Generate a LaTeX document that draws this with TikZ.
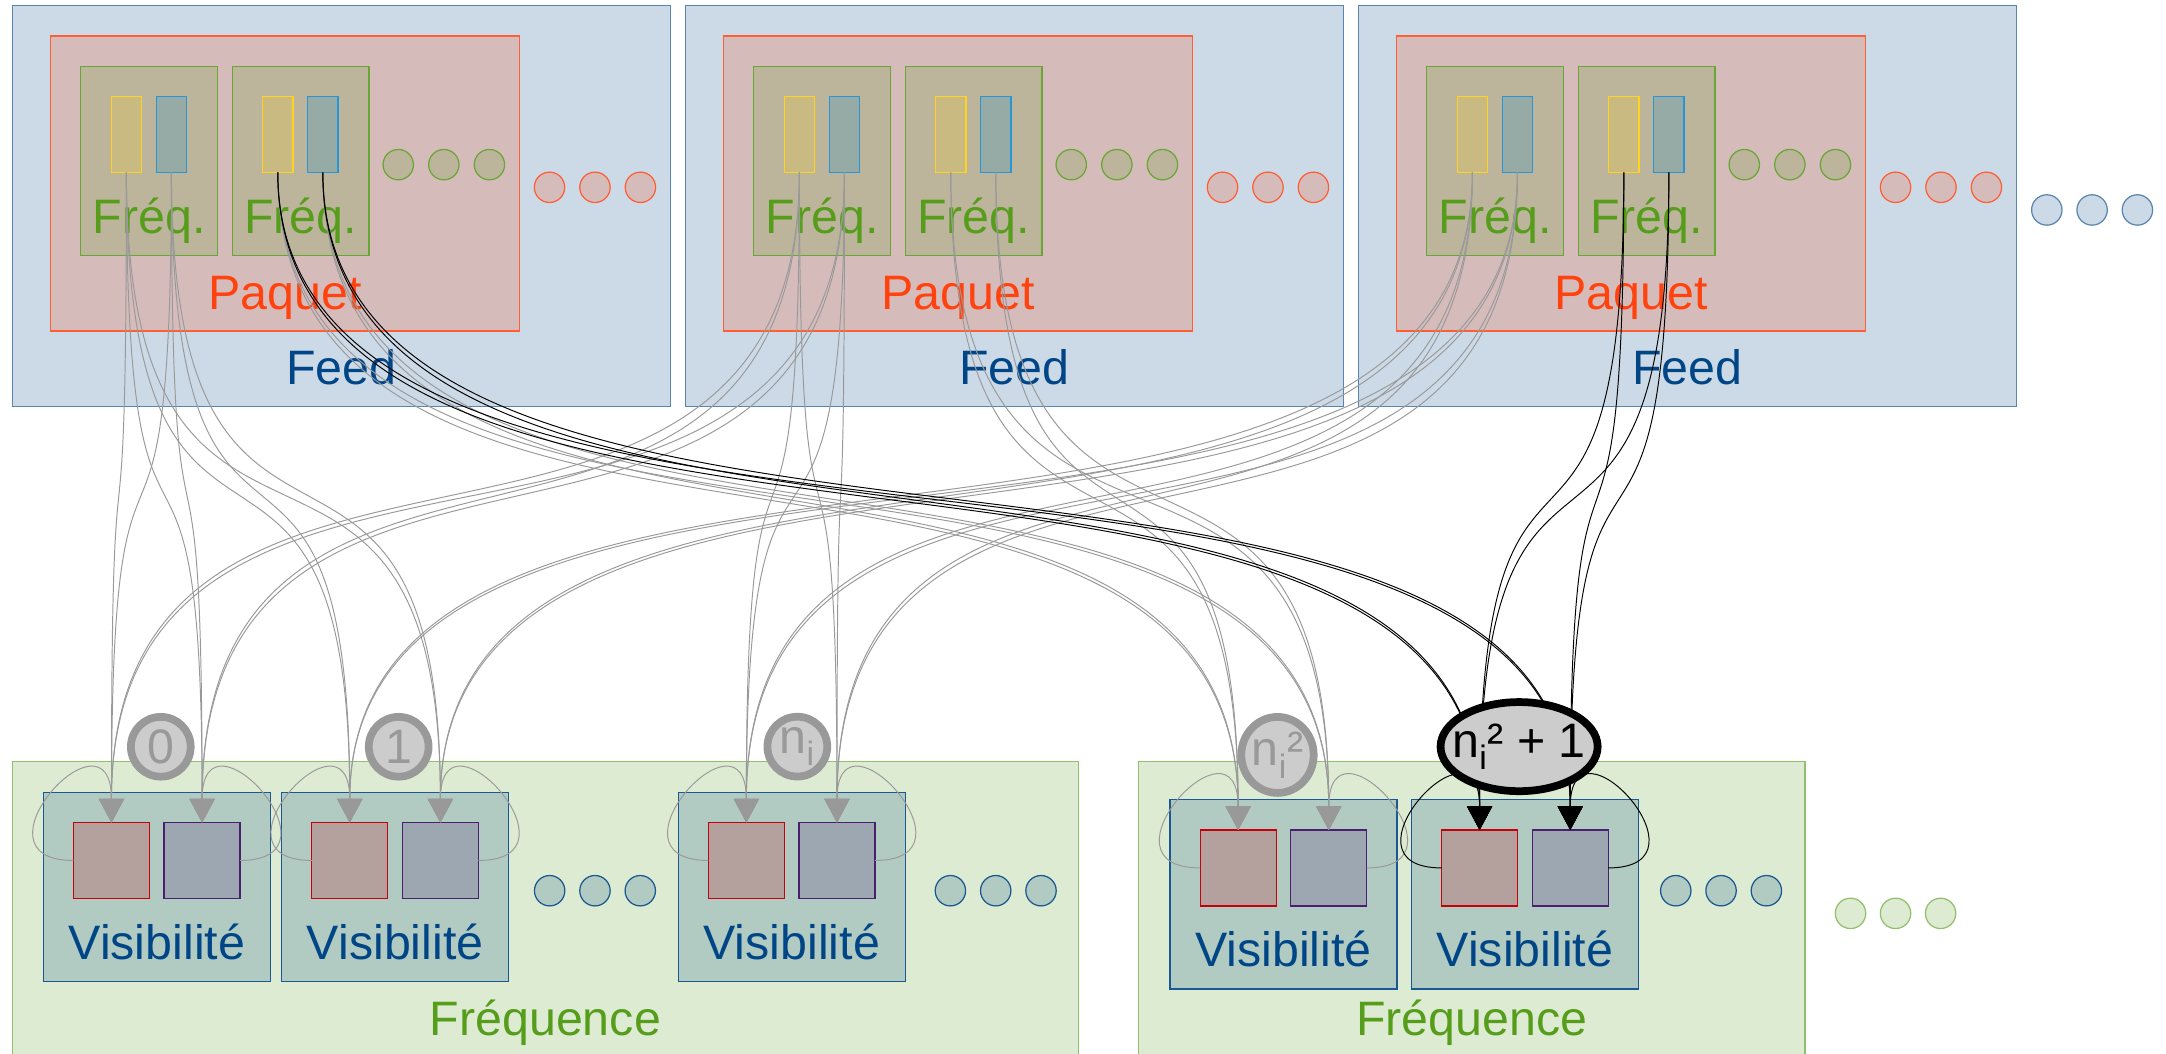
\documentclass[tikz,border=0pt]{standalone}
\usepackage{fontspec}
\setmainfont{Liberation Sans}
\usetikzlibrary{arrows.meta,shapes.geometric}

\definecolor{feedblue}{HTML}{004586}
\definecolor{paqred}{HTML}{FF420E}
\definecolor{frqgreen}{HTML}{579D1C}
\definecolor{polxyel}{HTML}{FFD320}
\definecolor{polyblue}{HTML}{0084D1}
\definecolor{visred}{HTML}{C5000B}
\definecolor{visviolet}{HTML}{4B1F6F}
\definecolor{wiregray}{HTML}{999999}
\definecolor{tagfill}{HTML}{CCCCCC}

\newcommand\lblfont{\fontsize{35}{38}\selectfont}

\tikzset{
  box/.style={rectangle, inner sep=0pt, outer sep=0pt, line width=0.9pt, fill opacity=0.2, anchor=south west},
  blob/.style={circle, minimum size=22pt, anchor=center},
  feedbox/.style={box, draw=feedblue!65, fill=feedblue},
  paqbox/.style={box, draw=paqred!85, fill=paqred},
  frqbox/.style={box, draw=frqgreen!90, fill=frqgreen},
  polx/.style={box, draw=polxyel, fill=polxyel, minimum width=22pt, minimum height=55pt},
  poly/.style={box, draw=polyblue!85, fill=polyblue, minimum width=22pt, minimum height=55pt},
  bandbox/.style={box, draw=frqgreen!65, fill=frqgreen},
  visbox/.style={box, draw=feedblue!90, fill=feedblue, minimum width=164.3pt, minimum height=137pt},
  sqr/.style={box, draw=visred, fill=visred, minimum size=55pt},
  sqv/.style={box, draw=visviolet, fill=visviolet, minimum size=55pt},
  lbl/.style={inner sep=0pt, anchor=base, font=\lblfont},
  wire/.style={draw=wiregray, line width=0.7pt, -{Triangle[length=17pt,width=18pt]}},
  hot/.style={wire, draw=black},
  drop/.style={out=-90, in=90, out distance=355pt, in distance=355pt},
  tag/.style={circle, fill=tagfill, draw=wiregray, line width=5.6pt, text=wiregray,
    inner sep=0pt, minimum size=43.3pt, font=\lblfont},
  tagon/.style={tag, ellipse, draw=black, text=black, line width=5.6pt,
    minimum width=106.5pt, minimum height=64.5pt, inner xsep=-8pt},
}

\begin{document}
\begin{tikzpicture}[x=1pt,y=1pt]
\useasboundingbox (0,0) rectangle (1568,763);
\clip (0,0) rectangle (1568,763);

\foreach \f in {1,2,3} {
  \pgfmathsetmacro\fx{9+487.2*(\f-1)}
  \node[feedbox, minimum width=476.4pt, minimum height=290.3pt] (feed\f) at (\fx,468.6) {};
  \node[paqbox, minimum width=339.7pt, minimum height=213.5pt] (paq\f) at (\fx+27.5,523.4) {};
  \foreach \q in {1,2} {
    \pgfmathsetmacro\qx{\fx+109.6*(\q-1)}
    \node[frqbox, minimum width=99pt, minimum height=137.1pt] (fq\f\q) at (\qx+49.5,577.9) {};
    \node[polx] (px\f\q) at (\qx+71.5,638.2) {};
    \node[poly] (py\f\q) at (\qx+104.1,638.2) {};
    \node[lbl, text=frqgreen] (fqt\f\q) at (\qx+99,594) {Fréq.};
  }
  \foreach \k in {0,1,2} {
    \node[frqbox, blob] (fqd\f\k) at (\fx+279.3+33*\k,643.8) {};
    \node[paqbox, blob] (paqd\f\k) at (\fx+388.8+32.9*\k,627.4) {};
  }
  \node[lbl, text=paqred] (paqt\f) at (\fx+197.4,538.6) {Paquet};
  \node[lbl, text=feedblue] (feedt\f) at (\fx+238.2,485) {Feed};
}
\foreach \k in {0,1,2}
  \node[feedbox, blob] (feedd\k) at (1481.7+32.8*\k,611) {};

\node[bandbox, minimum width=771.5pt, minimum height=232pt] (band1) at (9,-20) {};
\node[bandbox, minimum width=482.4pt, minimum height=231.6pt] (band2) at (824.3,-20) {};
\node[lbl, text=frqgreen] (bandt1) at (394.8,13.7) {Fréquence};
\node[lbl, text=frqgreen] (bandt2) at (1065.5,13.7) {Fréquence};
\foreach \k in {0,1,2}
  \node[bandbox, blob] (bandd\k) at (1339.6+32.6*\k,101.8) {};

\foreach \v/\vx/\vy in {0/31.4/52.4, 1/203.9/52.4, 2/491/52.4, 3/847/47, 4/1021.8/47} {
  \node[visbox] (vis\v) at (\vx,\vy) {};
  \node[sqr] (vr\v) at (\vx+21.8,\vy+60.2) {};
  \node[sqv] (vv\v) at (\vx+87.4,\vy+60.2) {};
  \node[lbl, text=feedblue] (vist\v) at (\vx+82.2,\vy+16) {Visibilité};
}
\foreach \g/\dx in {1/397.9, 2/688, 3/1213.1}
  \foreach \k in {0,1,2}
    \node[visbox, blob] (visd\g\k) at (\dx+32.8*\k,118.2) {};

\foreach \f/\q/\v/\c in {1/1/0/wire, 2/1/0/wire, 1/1/1/wire, 3/1/1/wire, 2/1/2/wire,
    3/1/2/wire, 1/2/3/wire, 2/2/3/wire, 1/2/4/hot, 3/2/4/hot}
  \foreach \p in {px,py} {
    \draw[\c] (\p\f\q.south) to[drop] (vr\v.north);
    \draw[\c] (\p\f\q.south) to[drop] (vv\v.north);
  }

\foreach \v/\c in {0/wire, 1/wire, 2/wire, 3/wire, 4/hot} {
  \draw[\c] (vr\v.west) .. controls +(-80,0) and +(0,90) .. (vr\v.north);
  \draw[\c] (vv\v.east) .. controls +(80,0) and +(0,90) .. (vv\v.north);
}

\node[tag] (tag0) at (116.4,222.4) {0};
\node[tag] (tag1) at (288.6,222.4) {1};
\node[tag] (tagn) at (577.2,222.5) {n\textsubscript{i}};
\node[tag, ellipse, minimum width=51.5pt, minimum height=55pt] (tagnn) at (924.8,216.5) {n\textsubscript{i}²};
\node[tagon] (tagnn1) at (1099.7,222.5) {n\textsubscript{i}² + 1};
\end{tikzpicture}
\end{document}
